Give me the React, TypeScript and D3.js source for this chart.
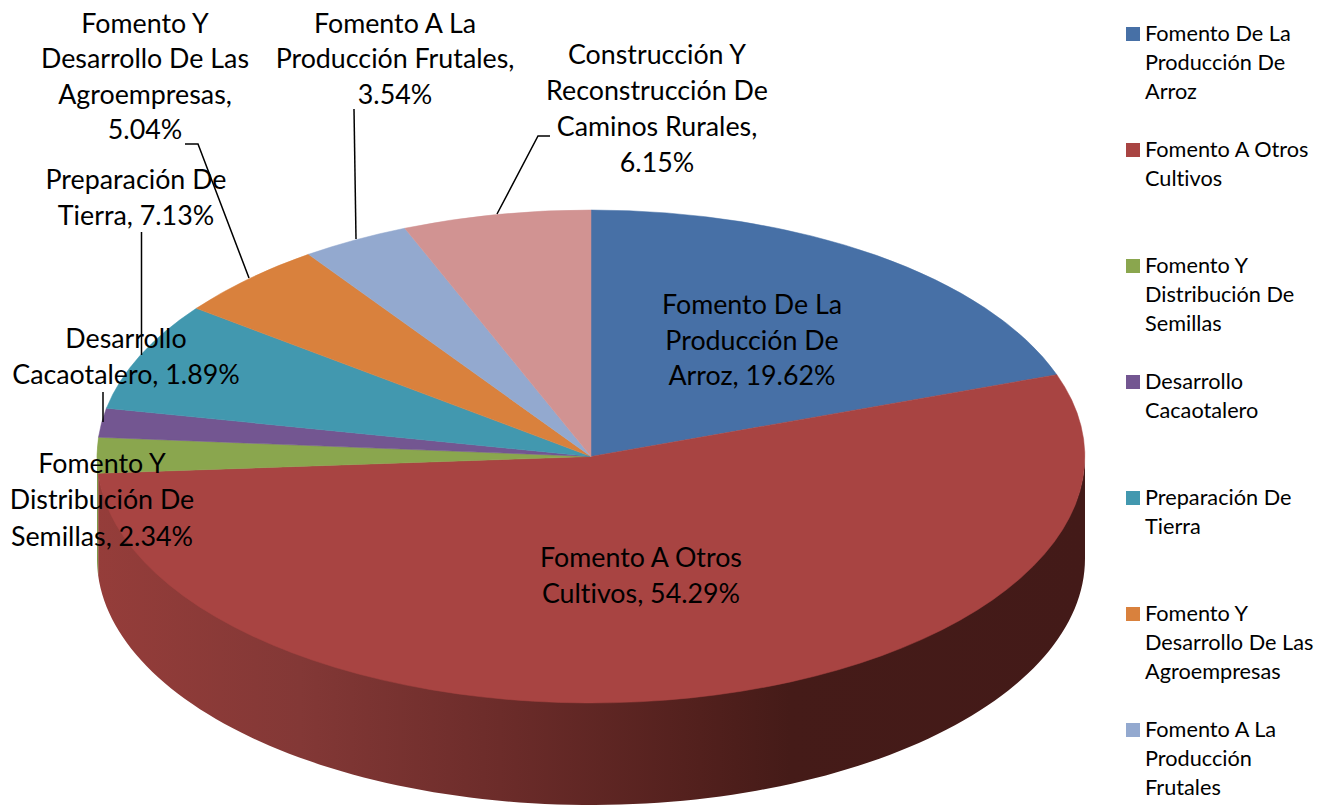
import React from "react";
import * as d3 from "d3";

const categories = [
  "Fomento De La Producción De Arroz",
  "Fomento A Otros Cultivos",
  "Fomento Y Distribución De Semillas",
  "Desarrollo Cacaotalero",
  "Preparación De Tierra",
  "Fomento Y Desarrollo De Las Agroempresas",
  "Fomento A La Producción Frutales",
  "Construcción Y Reconstrucción De Caminos Rurales",
];
const values = [19.62, 54.29, 2.34, 1.89, 7.13, 5.04, 3.54, 6.15];
const colors = ["#4770a6", "#a84442", "#8aa64e", "#735691", "#4298af", "#d9813d", "#93a9cf", "#d19392"];
const wallColors = ["#2c4567", "#a84442", "#7f9a48", "#735691", "#4298af", "#d9813d", "#93a9cf", "#d19392"];

const legendLines = [
  ["Fomento De La", "Producción De", "Arroz"],
  ["Fomento A Otros", "Cultivos"],
  ["Fomento Y", "Distribución De", "Semillas"],
  ["Desarrollo", "Cacaotalero"],
  ["Preparación De", "Tierra"],
  ["Fomento Y", "Desarrollo De Las", "Agroempresas"],
  ["Fomento A La", "Producción", "Frutales"],
];

const labelLines = [
  { x: 752, y: 314, dy: 35.5, lines: ["Fomento De La", "Producción De", "Arroz, 19.62%"] },
  { x: 641, y: 567, dy: 36, lines: ["Fomento A Otros", "Cultivos, 54.29%"] },
  { x: 102, y: 473, dy: 36.3, lines: ["Fomento Y", "Distribución De", "Semillas, 2.34%"] },
  { x: 126, y: 348, dy: 36.3, lines: ["Desarrollo", "Cacaotalero, 1.89%"] },
  { x: 136, y: 189, dy: 36.3, lines: ["Preparación De", "Tierra, 7.13%"] },
  { x: 145, y: 32.5, dy: 35.5, lines: ["Fomento Y", "Desarrollo De Las", "Agroempresas,", "5.04%"] },
  { x: 395, y: 32.5, dy: 35.5, lines: ["Fomento A La", "Producción Frutales,", "3.54%"] },
  { x: 657, y: 64, dy: 36, lines: ["Construcción Y", "Reconstrucción De", "Caminos Rurales,", "6.15%"] },
];

const leaders: [number, number][][] = [
  [[141.5, 232], [141.5, 355]],
  [[103, 392], [103, 422]],
  [[185, 144], [198, 144], [249, 278]],
  [[354, 109], [356, 239]],
  [[550, 136], [538, 136], [497, 214]],
];

const wallGradient = [
  { x: 97, c: "#953d3a" },
  { x: 300, c: "#833836" },
  { x: 500, c: "#6c2c2a" },
  { x: 700, c: "#52201d" },
  { x: 790, c: "#451b18" },
  { x: 1085, c: "#431a18" },
];

const CX = 591, CY = 456.5, RX = 494, RY = 246.5, DEPTH = 102;
const FONT = "Lato, 'Noto Sans', sans-serif";

export default function App() {
  const pie = d3.pie<number>().sort(null)(values);
  const arc = d3.arc<d3.PieArcDatum<number>>().innerRadius(0).outerRadius(1);
  const line = d3.line();
  const pt = (a: number, dy: number): [number, number] => [CX + RX * Math.sin(a), CY + dy + RY * -Math.cos(a)];

  // front-facing walls: the part of each slice between 90° and 270°
  const walls = pie.map((p, i) => {
    const a0 = Math.max(p.startAngle, Math.PI / 2);
    const a1 = Math.min(p.endAngle, (3 * Math.PI) / 2);
    if (a1 <= a0) return null;
    const angles = d3.range(0, 121).map((k) => a0 + ((a1 - a0) * k) / 120);
    const pts = [...angles.map((a) => pt(a, -2)), ...angles.slice().reverse().map((a) => pt(a, DEPTH))];
    return { i, d: line(pts)! + "Z" };
  }).filter(Boolean) as { i: number; d: string }[];

  return (
    <svg width={1330} height={805} style={{ position: "absolute", left: 0, top: 0, display: "block", fontVariantLigatures: "none" }} fontFamily={FONT}>
      <defs>
        <linearGradient id="wall" gradientUnits="userSpaceOnUse" x1={97} x2={1085} y1={0} y2={0}>
          {wallGradient.map((s) => (
            <stop key={s.x} offset={(s.x - 97) / 988} stopColor={s.c} />
          ))}
        </linearGradient>
      </defs>
      {walls.map((w) => (
        <path key={w.i} d={w.d} fill={w.i === 1 ? "url(#wall)" : wallColors[w.i]} />
      ))}
      <g transform={`translate(${CX},${CY}) scale(${RX},${RY})`}>
        {pie.map((p, i) => (
          <path key={categories[i]} d={arc(p)!} fill={colors[i]} stroke={colors[i]} strokeWidth={0.5} vectorEffect="non-scaling-stroke" />
        ))}
      </g>
      {leaders.map((l, i) => (
        <path key={i} d={line(l)!} fill="none" stroke="#000" strokeWidth={1.5} />
      ))}
      {labelLines.map((l, i) => (
        <text key={i} fontSize={26.8} fill="#000" textAnchor="middle">
          {l.lines.map((t, k) => (
            <tspan key={k} x={l.x} y={l.y + k * l.dy}>{t}</tspan>
          ))}
        </text>
      ))}
      {legendLines.map((lines, i) => {
        const y = 33 + i * 116;
        return (
          <g key={i}>
            <rect x={1126} y={y - 6} width={14} height={14} fill={colors[i]} />
            <text fontSize={21.7} fill="#000">
              {lines.map((t, k) => (
                <tspan key={k} x={1145} y={y + 8 + k * 29.1}>{t}</tspan>
              ))}
            </text>
          </g>
        );
      })}
    </svg>
  );
}
